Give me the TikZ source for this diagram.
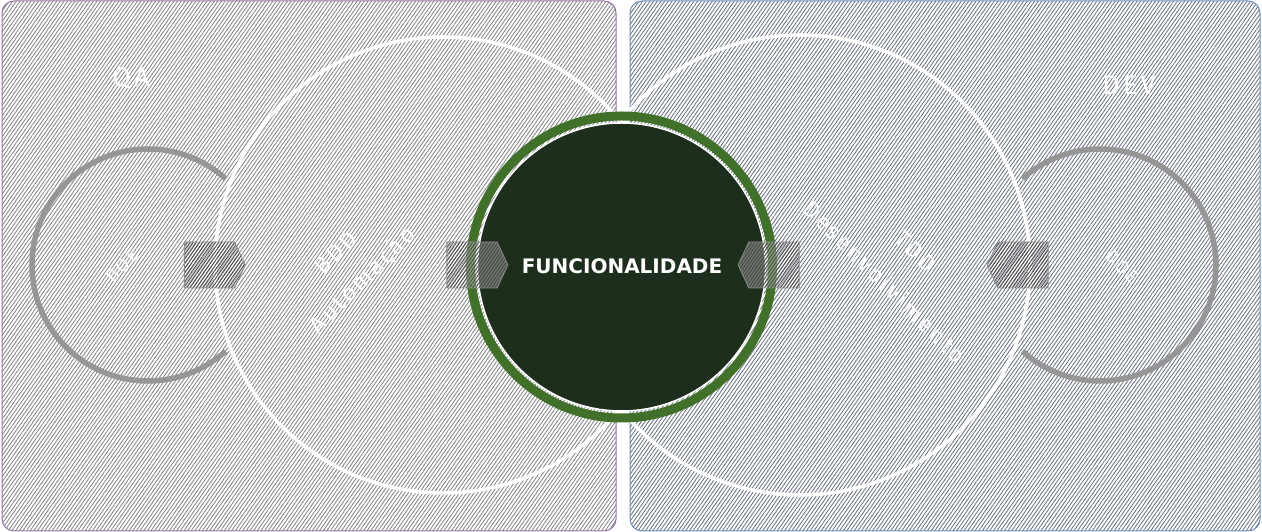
\documentclass[tikz,border=0pt]{standalone}
\usepackage{fontspec}
\setmainfont{Fira Sans}
\newfontfamily\labelfont[LetterSpace=12]{Fira Sans}
\newfontfamily\titlefont{DejaVu Sans}
\usetikzlibrary{patterns.meta,shapes.symbols}
\definecolor{qaborder}{RGB}{150,115,166}
\definecolor{devborder}{RGB}{108,142,191}
\definecolor{qahatch}{RGB}{128,128,132}
\definecolor{devhatch}{RGB}{100,108,125}
\definecolor{ringgreen}{RGB}{64,112,42}
\definecolor{darkcore}{RGB}{30,46,29}
\definecolor{arcgray}{RGB}{150,150,150}
\definecolor{stepgray}{RGB}{140,140,140}
\definecolor{stephatch}{RGB}{70,70,70}
\tikzset{
  zonebox/.style={rounded corners=12pt, line width=1pt, preaction={fill=white}},
  bigring/.style={circle, draw=white, line width=3.5pt, inner sep=0pt},
  grayarc/.style={draw=arcgray, line width=5.5pt},
  stepbox/.style={signal, signal pointer angle=130, draw=stepgray, line width=0.8pt,
     minimum width=61pt, minimum height=46pt, inner sep=0pt,
     preaction={fill=white, fill opacity=0.35},
     pattern={Lines[angle=55,distance=2.6pt,line width=0.9pt]}, pattern color=stephatch},
  whitelabel/.style={text=white, inner sep=0pt, align=center},
}
\begin{document}
\begin{tikzpicture}[x=1pt,y=1pt]
\useasboundingbox (0,0) rectangle (1262,532);
% zones
\path[zonebox, draw=qaborder, pattern={Lines[angle=55,distance=3pt,line width=0.8pt]}, pattern color=qahatch]
  (2,1) rectangle (616,531);
\path[zonebox, draw=devborder, pattern={Lines[angle=55,distance=3pt,line width=0.8pt]}, pattern color=devhatch]
  (630,1) rectangle (1260,531);
% small gray rings
\coordinate (qac) at (148,267);
\coordinate (devc) at (1100,267);
\draw[grayarc] (qac) ++(48:116) arc[start angle=48, end angle=312, radius=116];
\draw[grayarc] (devc) ++(-132:116) arc[start angle=-132, end angle=132, radius=116];
% big white rings
\node[bigring, minimum size=456pt] (bddring) at (443,267) {};
\node[bigring, minimum size=460pt] (tddring) at (800,267) {};
% left/right outer steps
\node[stepbox, signal to=east] (s1) at (209.5,267) {};
\node[stepbox, signal to=west] (s4) at (1023,267) {};
% centre
\node[circle, draw=ringgreen, line width=9pt, minimum size=302pt, inner sep=0pt] (ring) at (621.5,265) {};
\node[circle, fill=darkcore, draw=white, line width=1.5pt, minimum size=288pt, inner sep=0pt] (core) at (621.5,265) {};
\node[stepbox, signal to=east] (s2) at (472,267) {};
\node[stepbox, signal to=west] (s3) at (774,267) {};
\node[whitelabel, font=\titlefont\fontsize{20}{24}\selectfont\bfseries] (func) at (622,266) {FUNCIONALIDADE};
% labels
\node[whitelabel, font=\labelfont\fontsize{27}{30}\selectfont] (qa) at (131,454) {QA};
\node[whitelabel, font=\labelfont\fontsize{27}{30}\selectfont] (dev) at (1129,447) {DEV};
\node[whitelabel, font=\labelfont\fontsize{18}{20}\selectfont, rotate=45] (boe) at (122,266) {BOE};
\node[whitelabel, font=\labelfont\fontsize{18}{20}\selectfont, rotate=-45] (doe) at (1122,265) {DOE};
\node[whitelabel, font=\labelfont\fontsize{23}{38}\selectfont, rotate=45] (bdd) at (351,264) {BDD\\Automação};
\node[whitelabel, font=\labelfont\fontsize{23}{44}\selectfont, rotate=-45] (tdd) at (900,265) {TDD\\Desenvolvimento};
\end{tikzpicture}
\end{document}
